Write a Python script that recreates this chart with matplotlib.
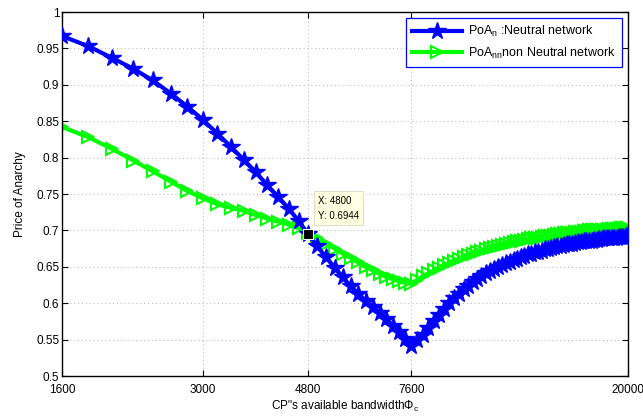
import numpy as np
import matplotlib.pyplot as plt

plt.rcParams['font.family'] = ['Liberation Sans', 'DejaVu Sans']
plt.rcParams['mathtext.fontset'] = 'custom'
plt.rcParams['mathtext.rm'] = 'Liberation Sans'
plt.rcParams['mathtext.it'] = 'Liberation Sans'

# bandwidth grid, step 200
bandwidth = np.arange(1600, 20001, 200)

poa_neutral = [
    0.967, 0.953, 0.937, 0.922, 0.906, 0.888, 0.870, 0.852, 0.833, 0.815,
    0.797, 0.780, 0.762, 0.746, 0.730, 0.713, 0.6944, 0.678, 0.663, 0.649,
    0.636, 0.623, 0.613, 0.603, 0.595, 0.586, 0.578, 0.569, 0.560, 0.551,
    0.541, 0.549, 0.557, 0.566, 0.575, 0.584, 0.592, 0.600, 0.607, 0.613,
    0.619, 0.624, 0.629, 0.633, 0.637, 0.641, 0.644, 0.647, 0.650, 0.652,
    0.655, 0.657, 0.659, 0.661, 0.663, 0.665, 0.667, 0.668, 0.670, 0.671,
    0.672, 0.674, 0.675, 0.676, 0.677, 0.678, 0.679, 0.680, 0.681, 0.681,
    0.682, 0.683, 0.684, 0.684, 0.685, 0.685, 0.686, 0.686, 0.687, 0.687,
    0.688, 0.688, 0.689, 0.689, 0.689, 0.690, 0.690, 0.690, 0.691, 0.691,
    0.691, 0.692, 0.692,
]

poa_non_neutral = [
    0.842, 0.828, 0.812, 0.796, 0.781, 0.767, 0.754, 0.744, 0.736, 0.731,
    0.727, 0.721, 0.716, 0.712, 0.708, 0.703, 0.696, 0.689, 0.682, 0.675,
    0.668, 0.662, 0.656, 0.650, 0.645, 0.640, 0.636, 0.633, 0.630, 0.628,
    0.627, 0.632, 0.637, 0.641, 0.645, 0.649, 0.652, 0.655, 0.658, 0.661,
    0.664, 0.666, 0.668, 0.670, 0.672, 0.674, 0.676, 0.677, 0.679, 0.680,
    0.681, 0.683, 0.684, 0.685, 0.686, 0.687, 0.688, 0.689, 0.690, 0.690,
    0.691, 0.692, 0.693, 0.693, 0.694, 0.695, 0.695, 0.696, 0.696, 0.697,
    0.697, 0.698, 0.698, 0.698, 0.699, 0.699, 0.700, 0.700, 0.700, 0.700,
    0.701, 0.701, 0.701, 0.701, 0.702, 0.702, 0.702, 0.702, 0.702, 0.703,
    0.703, 0.703, 0.703,
]

xticks = [1600, 3000, 4800, 7600, 20000]
yticks = [0.5, 0.55, 0.6, 0.65, 0.7, 0.75, 0.8, 0.85, 0.9, 0.95, 1]
ytick_labels = ['0.5', '0.55', '0.6', '0.65', '0.7', '0.75', '0.8', '0.85', '0.9', '0.95', '1']

tip_x = 4800
tip_y = 0.6944

fig = plt.figure(figsize=(6.43, 4.17), dpi=100)
ax = fig.add_axes([0.0964, 0.0983, 0.8803, 0.8729])

ax.plot(bandwidth, poa_neutral, '-', color='#0000ff', lw=3, marker='*',
        ms=13, mfc='#0000ff', mec='#0000ff', label='PoA$_{n}$ :Neutral network', zorder=3)
ax.plot(bandwidth, poa_non_neutral, '-', color='#00ff00', lw=3, marker='>',
        ms=9, mfc='none', mec='#00ff00', mew=1.5, label='PoA$_{nn}$non Neutral network', zorder=2)

# data cursor
ax.plot([tip_x], [tip_y], 's', color='black', ms=7, mec='white', mew=0.8, zorder=5)
ax.annotate('X: %d\nY: %.4f' % (tip_x, tip_y), xy=(tip_x, tip_y),
            xytext=(7, 10), textcoords='offset points', fontsize=7,
            va='bottom', ha='left', linespacing=1.6,
            bbox=dict(boxstyle='square,pad=0.45', fc='#ffffe1', ec='#d8d8c0', lw=0.6),
            zorder=6)

ax.set_xscale('log')
ax.set_xlim(1600, 20000)
ax.set_ylim(0.5, 1)
ax.set_xticks(xticks)
ax.set_xticklabels([str(t) for t in xticks])
ax.xaxis.set_minor_locator(plt.NullLocator())
ax.set_yticks(yticks)
ax.set_yticklabels(ytick_labels)
ax.tick_params(direction='in', top=True, right=True, labelsize=8.5, length=4, pad=2)
ax.tick_params(axis='x', pad=5.5)
ax.grid(True, linestyle=(0, (1, 3)), color='#b0b0b0', lw=0.7)
for s in ax.spines.values():
    s.set_linewidth(1.0)

ax.set_xlabel('CP"s available bandwidth$\\Phi_{c}$', fontsize=8.5, labelpad=2)
ax.set_ylabel('Price of Anarchy', fontsize=8.5, labelpad=7)

leg = ax.legend(loc='upper right', fontsize=9, fancybox=False, framealpha=1,
                borderaxespad=0.5, handlelength=4.0, handletextpad=0.5,
                borderpad=0.45, labelspacing=0.55)
leg.get_frame().set_edgecolor('#0000ff')
leg.get_frame().set_linewidth(0.9)

fig.savefig('out.png', dpi=100)
